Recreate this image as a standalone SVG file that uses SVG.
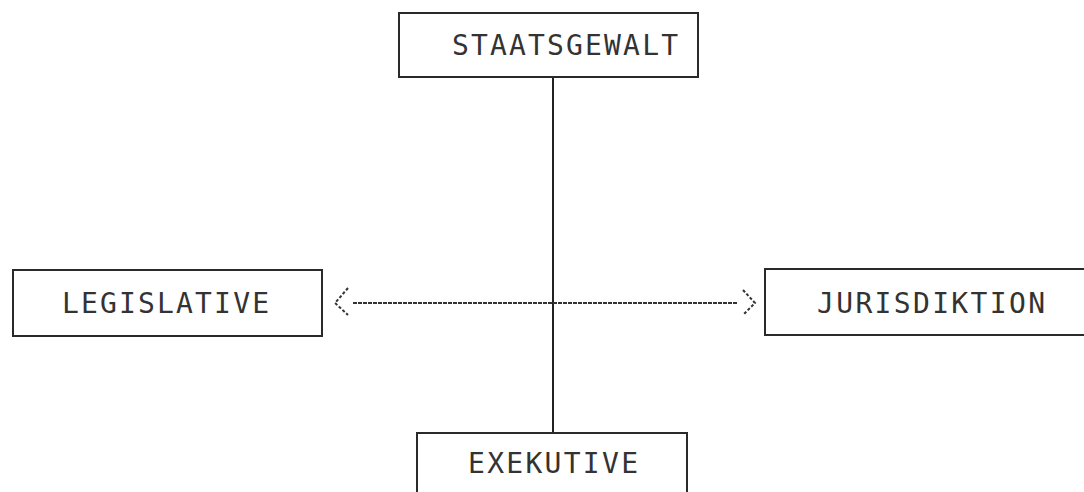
<svg xmlns="http://www.w3.org/2000/svg" width="1084" height="492" viewBox="0 0 1084 492">
<style>
.box{fill:none;stroke:#2a2a2a;stroke-width:2}
.lbl{font-family:"DejaVu Sans Mono","Liberation Mono",monospace;font-size:28px;fill:#333;text-anchor:start}
.ln{stroke:#222;stroke-width:2;fill:none}
.dl{stroke:#333;stroke-width:2;fill:none;stroke-dasharray:4 1}
.hd{stroke:#333;stroke-width:2;fill:none;stroke-dasharray:3 2}
</style>
<rect width="1084" height="492" fill="#fff"/>
<g id="connectors">
<line class="ln" x1="553" y1="78" x2="553" y2="433"/>
<line class="dl" x1="353" y1="303" x2="737" y2="303"/>
<polyline class="hd" points="348,288 335,303 348,315"/>
<polyline class="hd" points="743,290 755,303 743,315"/>
</g>
<g id="staatsgewalt">
<rect class="box" x="399" y="13" width="299" height="64"/>
<text class="lbl" x="452" y="55" textLength="226" lengthAdjust="spacing">STAATSGEWALT</text>
</g>
<g id="legislative">
<rect class="box" x="13" y="270" width="309" height="66"/>
<text class="lbl" x="62" y="313" textLength="207" lengthAdjust="spacing">LEGISLATIVE</text>
</g>
<g id="jurisdiktion">
<rect class="box" x="765" y="269" width="330" height="66"/>
<text class="lbl" x="817" y="313" textLength="228" lengthAdjust="spacing">JURISDIKTION</text>
</g>
<g id="exekutive">
<rect class="box" x="417" y="433" width="270" height="80"/>
<text class="lbl" x="468" y="473" textLength="170" lengthAdjust="spacing">EXEKUTIVE</text>
</g>
</svg>
